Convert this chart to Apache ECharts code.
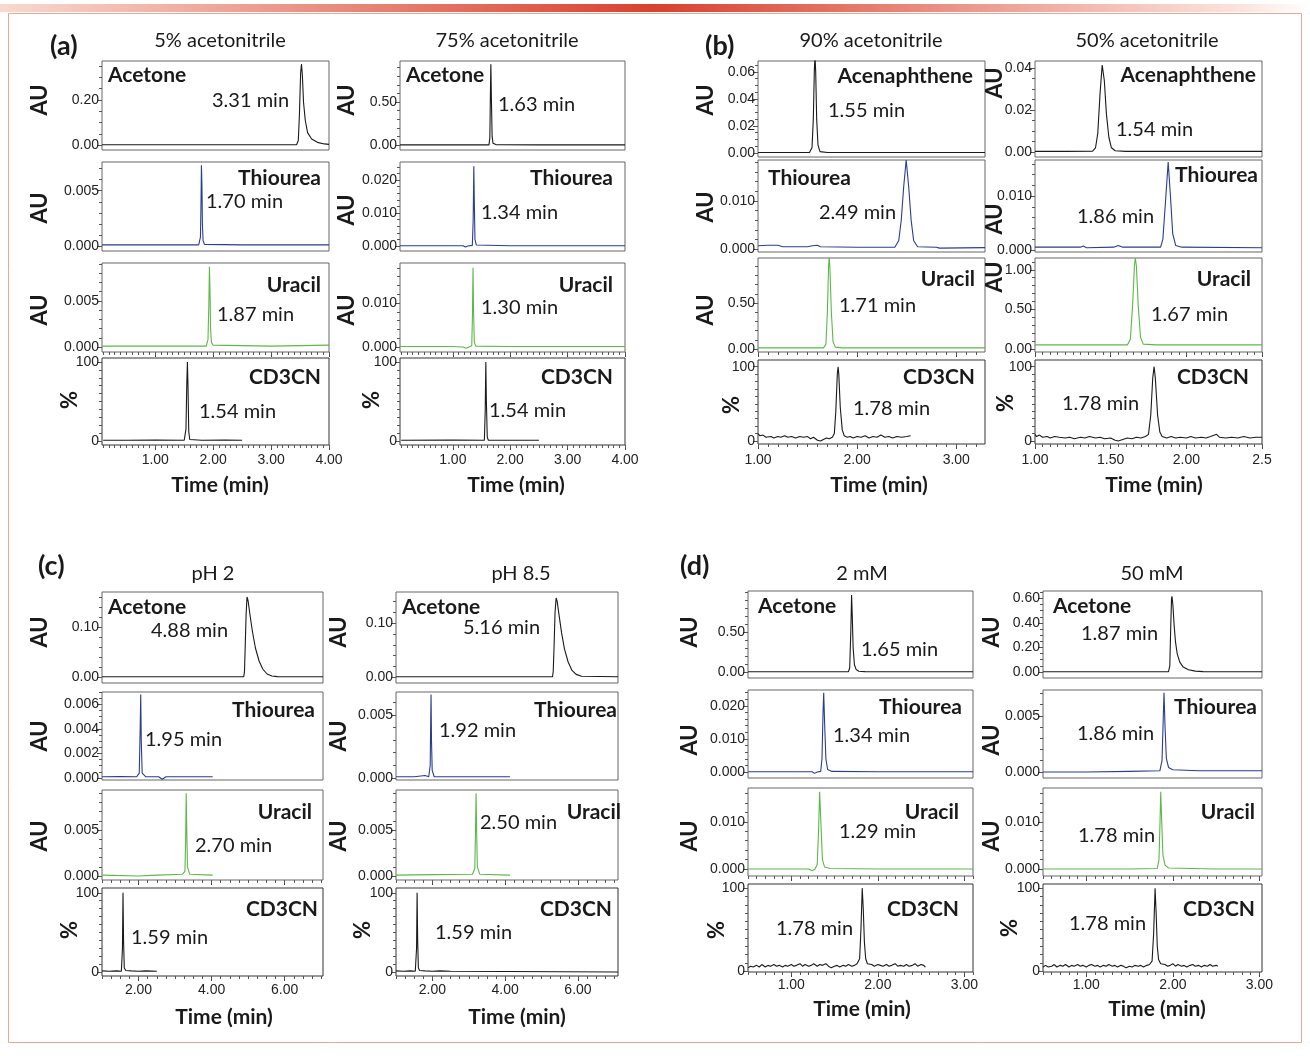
<!DOCTYPE html>
<html><head><meta charset="utf-8">
<script src="https://cdn.jsdelivr.net/npm/echarts@6/dist/echarts.min.js"></script>
<style>html,body{margin:0;padding:0;background:#fff}#c{width:1310px;height:1056px}</style>
</head><body><div id="c"></div>
<script>
// ---------------- DATA ----------------
// (a) 5% acetonitrile
const a1_acetone = [[0.08,0.001],[1.0,0.001],[2.0,0.001],[3.0,0.001],[3.44,0.001],[3.47,0.02],[3.49,0.14],[3.51,0.32],[3.525,0.36],[3.54,0.31],[3.56,0.19],[3.59,0.11],[3.63,0.055],[3.70,0.027],[3.80,0.012],[3.92,0.005],[4.0,0.003]];
const a1_thiourea = [[0.08,0.0001],[0.5,0.00012],[1.0,0.0001],[1.5,0.00012],[1.75,0.0001],[1.78,0.0008],[1.79,0.004],[1.797,0.0073],[1.806,0.0055],[1.814,0.002],[1.825,0.0005],[1.85,0.00015],[2.5,0.0001],[3.2,0.00012],[4.0,0.0001]];
const a1_uracil = [[0.08,0.0001],[1.0,0.0001],[1.88,0.0001],[1.91,0.0008],[1.925,0.0045],[1.935,0.0087],[1.945,0.006],[1.955,0.002],[1.97,0.0005],[2.0,0.0002],[3.0,0.0001],[4.0,0.0002]];
const a1_cd3cn = [[0.1,1],[0.5,1],[1.0,1.2],[1.5,1],[1.53,15],[1.545,75],[1.555,100],[1.565,70],[1.578,12],[1.595,2],[1.8,1],[2.2,1.2],[2.5,1]];
// (a) 75% acetonitrile
const a2_acetone = [[0.08,0.002],[1.0,0.002],[1.63,0.002],[1.645,0.08],[1.655,0.6],[1.663,0.94],[1.672,0.55],[1.685,0.1],[1.70,0.02],[1.75,0.005],[2.5,0.002],[4.0,0.002]];
const a2_thiourea = [[0.08,0.0001],[1.0,0.0001],[1.18,0.0001],[1.22,-0.0003],[1.26,0.0],[1.34,0.0002],[1.355,0.008],[1.366,0.0242],[1.376,0.012],[1.386,0.002],[1.41,0.0003],[2.0,0.0001],[4.0,0.0001]];
const a2_uracil = [[0.08,0.0001],[1.0,0.0001],[1.18,0.0],[1.23,-0.0003],[1.28,0.0],[1.33,0.0003],[1.342,0.007],[1.352,0.018],[1.362,0.008],[1.375,0.001],[1.40,0.0002],[2.0,0.0001],[4.0,0.0001]];
const a2_cd3cn = [[0.1,1],[1.0,1.2],[1.55,1],[1.565,40],[1.575,100],[1.585,50],[1.6,5],[1.62,1],[2.5,1]];
// (b) 90% acetonitrile
const b1_acenaphthene = [[1.0,0.0003],[1.3,0.0003],[1.52,0.0004],[1.545,0.004],[1.558,0.025],[1.568,0.06],[1.575,0.072],[1.582,0.06],[1.592,0.025],[1.605,0.006],[1.625,0.001],[1.7,0.0003],[3.29,0.0003]];
const b1_thiourea = [[1.0,0.0007],[1.1,0.0008],[1.2,0.0008],[1.25,0.0005],[1.5,0.0005],[1.55,0.0007],[1.6,0.0008],[1.63,0.0005],[2.0,0.0004],[2.38,0.0004],[2.42,0.0018],[2.445,0.006],[2.47,0.013],[2.495,0.0185],[2.52,0.013],[2.545,0.006],[2.57,0.0018],[2.61,0.0005],[2.8,0.0004],[2.83,0.0002],[3.29,0.0003]];
const b1_uracil = [[1.0,0.012],[1.4,0.012],[1.66,0.012],[1.685,0.05],[1.70,0.4],[1.712,0.9],[1.718,1.0],[1.725,0.9],[1.74,0.4],[1.757,0.08],[1.78,0.02],[1.85,0.012],[3.29,0.012]];
const b1_cd3cn = [[1.0,10],[1.02,7],[1.05,8],[1.08,5],[1.1,7],[1.13,6],[1.16,4],[1.2,6],[1.23,5],[1.27,7],[1.3,5],[1.34,6],[1.38,4],[1.42,6],[1.46,5],[1.5,6],[1.53,3],[1.56,5],[1.6,1],[1.63,0],[1.66,2],[1.69,4],[1.72,3],[1.75,5],[1.77,10],[1.785,40],[1.80,90],[1.808,100],[1.815,90],[1.83,45],[1.85,15],[1.87,7],[1.9,5],[1.93,6],[1.96,4],[2.0,6],[2.04,5],[2.08,7],[2.12,4],[2.16,6],[2.2,5],[2.24,8],[2.28,5],[2.32,6],[2.36,4],[2.4,6],[2.45,5],[2.5,6],[2.54,7]];
// (b) 50% acetonitrile
const b2_acenaphthene = [[1.0,0.0003],[1.2,0.0003],[1.38,0.0004],[1.40,0.002],[1.415,0.009],[1.43,0.028],[1.444,0.0414],[1.458,0.034],[1.472,0.018],[1.488,0.007],[1.505,0.002],[1.53,0.0006],[1.6,0.0003],[2.5,0.0003]];
const b2_thiourea = [[1.0,0.0005],[1.3,0.0005],[1.32,0.0007],[1.34,0.0004],[1.52,0.0005],[1.55,0.0008],[1.58,0.0005],[1.83,0.0005],[1.845,0.002],[1.86,0.008],[1.88,0.0163],[1.895,0.01],[1.91,0.003],[1.93,0.0008],[1.97,0.0005],[2.5,0.0004]];
const b2_uracil = [[1.0,0.05],[1.5,0.05],[1.61,0.05],[1.63,0.12],[1.645,0.55],[1.657,1.05],[1.663,1.15],[1.67,1.05],[1.682,0.55],[1.697,0.15],[1.715,0.06],[1.8,0.05],[2.5,0.05]];
const b2_cd3cn = [[1.0,9],[1.01,6],[1.03,8],[1.05,5],[1.08,6],[1.1,4],[1.13,6],[1.16,5],[1.2,4],[1.23,5],[1.26,3],[1.3,5],[1.33,4],[1.36,6],[1.4,4],[1.43,5],[1.46,3],[1.5,4],[1.53,1],[1.55,0],[1.58,2],[1.61,4],[1.64,3],[1.67,5],[1.7,4],[1.73,6],[1.75,9],[1.765,35],[1.778,85],[1.787,100],[1.795,85],[1.81,35],[1.825,12],[1.84,6],[1.87,4],[1.9,6],[1.93,4],[1.96,5],[2.0,4],[2.03,6],[2.06,4],[2.1,5],[2.13,4],[2.16,6],[2.2,9],[2.22,5],[2.26,4],[2.3,5],[2.34,4],[2.38,6],[2.42,4],[2.46,5],[2.5,5]];
// (c) pH 2
const c1_acetone = [[1.0,0.0005],[2.0,0.0005],[3.0,0.0005],[4.0,0.0005],[4.88,0.0006],[4.90,0.01],[4.92,0.06],[4.945,0.125],[4.97,0.16],[5.0,0.152],[5.05,0.125],[5.12,0.09],[5.2,0.058],[5.3,0.032],[5.4,0.016],[5.52,0.006],[5.65,0.002],[5.8,0.0008],[7.05,0.0005]];
const c1_thiourea = [[1.0,0.0001],[1.5,0.00012],[1.95,0.0001],[2.02,0.0004],[2.045,0.004],[2.06,0.0068],[2.075,0.003],[2.1,0.0004],[2.2,0.0001],[2.55,0.0001],[2.65,-0.0001],[2.75,0.0001],[3.5,0.0001],[4.03,0.0001]];
const c1_uracil = [[1.0,0.0001],[2.0,0.0],[2.5,0.0001],[3.2,0.0002],[3.27,0.0005],[3.29,0.004],[3.305,0.009],[3.32,0.005],[3.34,0.001],[3.4,0.0002],[4.03,0.0001]];
const c1_cd3cn = [[1.0,1.5],[1.2,1],[1.4,1.5],[1.53,1],[1.56,30],[1.575,100],[1.59,40],[1.61,5],[1.65,2],[1.8,1.5],[2.0,1],[2.2,1.5],[2.5,1]];
// (c) pH 8.5
const c2_acetone = [[1.0,0.0005],[3.0,0.0005],[5.0,0.0005],[5.3,0.0006],[5.32,0.01],[5.345,0.06],[5.37,0.12],[5.40,0.147],[5.43,0.14],[5.48,0.115],[5.55,0.082],[5.63,0.052],[5.73,0.028],[5.83,0.013],[5.95,0.005],[6.1,0.0015],[7.1,0.0005]];
const c2_thiourea = [[1.0,0.0001],[1.5,0.0001],[1.8,0.0002],[1.9,0.0001],[1.94,0.001],[1.955,0.005],[1.963,0.0066],[1.975,0.003],[1.995,0.0006],[2.05,0.0001],[3.0,0.0001],[4.13,0.0001]];
const c2_uracil = [[1.0,0.0001],[2.0,0.00015],[3.1,0.0002],[3.165,0.0008],[3.185,0.005],[3.2,0.009],[3.215,0.005],[3.235,0.001],[3.3,0.0002],[4.13,0.0001]];
const c2_cd3cn = [[1.0,1.5],[1.2,1],[1.4,1.5],[1.53,1],[1.565,30],[1.58,100],[1.595,40],[1.615,5],[1.65,2],[1.8,1.5],[2.0,1],[2.2,1.5],[2.5,1],[2.55,0],[7.1,0]];
// (d) 2 mM
const d1_acetone = [[0.5,0.003],[1.2,0.003],[1.66,0.003],[1.675,0.05],[1.688,0.5],[1.697,0.96],[1.705,0.7],[1.715,0.3],[1.73,0.09],[1.75,0.03],[1.78,0.01],[1.85,0.004],[3.1,0.003]];
const d1_thiourea = [[0.5,0.0001],[1.0,0.0001],[1.24,0.0001],[1.27,-0.0004],[1.3,0.0],[1.34,0.0002],[1.355,0.004],[1.367,0.018],[1.375,0.024],[1.385,0.015],[1.4,0.004],[1.42,0.0008],[1.47,0.0002],[2.0,0.0001],[3.1,0.0001]];
const d1_uracil = [[0.5,0.0],[1.0,0.0],[1.2,0.0],[1.24,-0.0004],[1.275,0.0],[1.3,0.001],[1.315,0.008],[1.328,0.0164],[1.342,0.01],[1.36,0.002],[1.385,0.0004],[1.45,0.0001],[2.0,0.0],[3.1,0.0]];
const d1_cd3cn = [[0.5,4],[0.53,6],[0.56,5],[0.6,7],[0.63,5],[0.66,8],[0.7,5],[0.73,7],[0.76,6],[0.8,8],[0.83,6],[0.86,7],[0.9,5],[0.93,7],[0.96,6],[1.0,8],[1.03,6],[1.06,7],[1.1,9],[1.13,6],[1.16,8],[1.2,6],[1.23,7],[1.26,9],[1.3,6],[1.33,8],[1.36,7],[1.4,9],[1.43,6],[1.46,4],[1.5,6],[1.53,7],[1.56,5],[1.6,7],[1.63,6],[1.66,8],[1.7,6],[1.73,7],[1.76,9],[1.79,15],[1.805,50],[1.82,100],[1.832,75],[1.845,35],[1.86,15],[1.88,9],[1.9,7],[1.93,8],[1.96,6],[2.0,8],[2.03,7],[2.06,6],[2.1,8],[2.13,6],[2.16,7],[2.2,9],[2.23,6],[2.26,7],[2.3,6],[2.33,8],[2.36,6],[2.4,7],[2.43,9],[2.46,6],[2.5,8],[2.53,7],[2.55,5]];
// (d) 50 mM
const d2_acetone = [[0.5,0.002],[1.0,0.002],[1.5,0.002],[1.95,0.002],[1.965,0.05],[1.975,0.35],[1.985,0.6],[1.99,0.617],[2.0,0.55],[2.015,0.38],[2.03,0.25],[2.05,0.15],[2.08,0.08],[2.12,0.04],[2.18,0.018],[2.26,0.007],[2.35,0.003],[3.03,0.002]];
const d2_thiourea = [[0.5,0.0],[1.0,0.0],[1.5,0.00005],[1.85,0.0001],[1.875,0.001],[1.89,0.005],[1.898,0.00705],[1.91,0.004],[1.925,0.0012],[1.95,0.0004],[2.0,0.0002],[2.3,0.0001],[3.03,0.0001]];
const d2_uracil = [[0.5,0.0],[1.0,0.0],[1.5,0.0],[1.82,0.0001],[1.84,0.002],[1.852,0.01],[1.86,0.0164],[1.87,0.011],[1.885,0.003],[1.91,0.0008],[1.95,0.0002],[2.5,0.0],[3.03,0.0]];
const d2_cd3cn = [[0.5,5],[0.53,7],[0.56,5],[0.6,6],[0.63,8],[0.66,5],[0.7,7],[0.73,6],[0.76,8],[0.8,5],[0.83,7],[0.86,6],[0.9,8],[0.93,6],[0.96,7],[1.0,5],[1.03,7],[1.06,8],[1.1,6],[1.13,7],[1.16,5],[1.2,7],[1.23,6],[1.26,8],[1.3,6],[1.33,7],[1.36,5],[1.4,7],[1.43,6],[1.46,4],[1.5,6],[1.53,5],[1.56,7],[1.6,6],[1.63,7],[1.66,5],[1.7,7],[1.73,8],[1.76,12],[1.778,45],[1.795,100],[1.807,70],[1.82,30],[1.835,14],[1.86,9],[1.88,7],[1.91,8],[1.94,6],[1.97,7],[2.0,9],[2.03,6],[2.06,8],[2.1,6],[2.13,7],[2.16,5],[2.2,7],[2.23,8],[2.26,6],[2.3,7],[2.33,5],[2.36,7],[2.4,6],[2.43,8],[2.46,6],[2.5,7],[2.52,6]];

// text content
const quadLetters = ["(a)","(b)","(c)","(d)"];
const colTitles = ["5% acetonitrile","75% acetonitrile","90% acetonitrile","50% acetonitrile","pH 2","pH 8.5","2 mM","50 mM"];
const namesStd = ["Acetone","Thiourea","Uracil","CD3CN"];
const namesB = ["Acenaphthene","Thiourea","Uracil","CD3CN"];
const rtA1 = ["3.31 min","1.70 min","1.87 min","1.54 min"];
const rtA2 = ["1.63 min","1.34 min","1.30 min","1.54 min"];
const rtB1 = ["1.55 min","2.49 min","1.71 min","1.78 min"];
const rtB2 = ["1.54 min","1.86 min","1.67 min","1.78 min"];
const rtC1 = ["4.88 min","1.95 min","2.70 min","1.59 min"];
const rtC2 = ["5.16 min","1.92 min","2.50 min","1.59 min"];
const rtD1 = ["1.65 min","1.34 min","1.29 min","1.78 min"];
const rtD2 = ["1.87 min","1.86 min","1.78 min","1.78 min"];
// tick labels
const xTicksA = [1,2,3,4], xTicksB1 = [1,2,3], xTicksB2 = [1,1.5,2,2.5], xTicksC = [2,4,6], xTicksD = [1,2,3];
const xTickTextB2 = ["1.00","1.50","2.00","2.5"];
const yTicksA1 = [[0,0.2],[0,0.005],[0,0.005],[0,100]];
const yTicksA2 = [[0,0.5],[0,0.01,0.02],[0,0.01],[0,100]];
const yTicksB1 = [[0,0.02,0.04,0.06],[0,0.01],[0,0.5],[0,100]];
const yTicksB2 = [[0,0.02,0.04],[0,0.01],[0,0.5,1.0],[0,100]];
const yTicksC1 = [[0,0.1],[0,0.002,0.004,0.006],[0,0.005],[0,100]];
const yTicksC2 = [[0,0.1],[0,0.005],[0,0.005],[0,100]];
const yTicksD1 = [[0,0.5],[0,0.01,0.02],[0,0.01],[0,100]];
const yTicksD2 = [[0,0.2,0.4,0.6],[0,0.005],[0,0.01],[0,100]];

// ---------------- LAYOUT / STYLE ----------------
const rowsA = [[61,150],[162,251],[263,352],[358,445]];
const rowsB = [[61,157],[160,252],[258,352],[360,444]];
const rowsC = [[592,683],[692,780],[790,880],[888,976]];
const rowsD = [[591,678],[690,778],[788,876],[884,972]];
const COLORS = ['#1a1a1a','#2b3d8f','#5cb848','#1a1a1a'];
const YDEC = [[2,3,3,0],[2,3,3,0],[2,3,2,0],[2,3,2,0],[2,3,3,0],[2,3,3,0],[2,3,3,0],[2,3,3,0]];
const YMINOR = [[0.05,0.001,0.001,10],[0.1,0.002,0.002,10],[0.005,0.002,0.1,10],[0.005,0.002,0.1,10],[0.02,0.0005,0.001,10],[0.02,0.001,0.001,10],[0.1,0.002,0.002,10],[0.05,0.001,0.002,10]];

const COLS = [
 {x:[102,329], rows:rowsA, xr:[0.08,4.0], xt:xTicksA, xminor:0.1, xm:8, tr:[a1_acetone,a1_thiourea,a1_uracil,a1_cd3cn], names:namesStd, rt:rtA1, yt:yTicksA1,
  yr:[[-0.022,0.373],[-0.00045,0.0076],[-0.00054,0.0091],[-5,105]],
  nm:[[108,75,'left'],[321,178,'right'],[321,285,'right'],[321,377,'right']],
  rp:[[212,101],[206,202],[217,315],[199,412]],
  au:[[40,100],[40,208],[40,310],[70,400]], title:[220,41], time:[220,485]},
 {x:[400,625], rows:rowsA, xr:[0.08,4.0], xt:xTicksA, xminor:0.1, xm:8, tr:[a2_acetone,a2_thiourea,a2_uracil,a2_cd3cn], names:namesStd, rt:rtA2, yt:yTicksA2,
  yr:[[-0.058,0.977],[-0.0015,0.0255],[-0.00114,0.0191],[-5,105]],
  nm:[[406,75,'left'],[613,178,'right'],[613,285,'right'],[613,377,'right']],
  rp:[[498,105],[481,213],[481,308],[489,411]],
  au:[[347,100],[347,210],[347,310],[372,400]], title:[507,41], time:[516,485]},
 {x:[758,985], rows:rowsB, xr:[1.0,3.29], xt:xTicksB1, xminor:0.1, xm:9, tr:[b1_acenaphthene,b1_thiourea,b1_uracil,b1_cd3cn], names:namesB, rt:rtB1, yt:yTicksB1,
  yr:[[-0.003,0.068],[-0.0006,0.0185],[-0.033,0.99],[-4,109]],
  nm:[[973,76,'right'],[768,178,'left'],[975,279,'right'],[975,377,'right']],
  rp:[[828,111],[819,213],[839,306],[853,409]],
  au:[[706,100],[706,207],[706,310],[732,405]], title:[871,41], time:[879,485]},
 {x:[1035,1262], rows:rowsB, xr:[1.0,2.5], xt:xTicksB2, xtext:xTickTextB2, xminor:0.05, xm:9, tr:[b2_acenaphthene,b2_thiourea,b2_uracil,b2_cd3cn], names:namesB, rt:rtB2, yt:yTicksB2,
  yr:[[-0.0024,0.0433],[-0.0004,0.0167],[-0.04,1.15],[-4,109]],
  nm:[[1256,75,'right'],[1258,175,'right'],[1251,279,'right'],[1249,377,'right']],
  rp:[[1116,130],[1077,217],[1151,315],[1062,404]],
  au:[[995,83],[995,219],[995,277],[1006,403]], title:[1147,41], time:[1154,485]},
 {x:[102,323], rows:rowsC, xr:[1.0,7.05], xt:xTicksC, xminor:0.25, xm:7, tr:[c1_acetone,c1_thiourea,c1_uracil,c1_cd3cn], names:namesStd, rt:rtC1, yt:yTicksC1,
  yr:[[-0.012,0.17],[-0.00016,0.0070],[-0.00043,0.00935],[-5,106]],
  nm:[[108,607,'left'],[315,710,'right'],[312,812,'right'],[318,909,'right']],
  rp:[[151,631],[145,740],[195,846],[131,938]],
  au:[[40,632],[40,736],[40,836],[70,930]], title:[213,574], time:[224,1017]},
 {x:[396,618], rows:rowsC, xr:[1.0,7.1], xt:xTicksC, xminor:0.25, xm:7, tr:[c2_acetone,c2_thiourea,c2_uracil,c2_cd3cn], names:namesStd, rt:rtC2, yt:yTicksC2,
  yr:[[-0.011,0.158],[-0.00016,0.0068],[-0.00043,0.00935],[-5,106]],
  nm:[[402,607,'left'],[617,710,'right'],[621,812,'right'],[612,909,'right']],
  rp:[[463,628],[439,731],[480,823],[435,933]],
  au:[[339,632],[339,736],[339,836],[363,930]], title:[521,574], time:[517,1017]},
 {x:[748,973], rows:rowsD, xr:[0.5,3.1], xt:xTicksD, xminor:0.1, xm:6, tr:[d1_acetone,d1_thiourea,d1_uracil,d1_cd3cn], names:namesStd, rt:rtD1, yt:yTicksD1,
  yr:[[-0.075,1.01],[-0.0018,0.0248],[-0.0015,0.0172],[-1,105]],
  nm:[[758,606,'left'],[962,707,'right'],[959,812,'right'],[959,909,'right']],
  rp:[[861,650],[833,736],[839,832],[776,929]],
  au:[[690,632],[690,740],[690,836],[717,930]], title:[862,574], time:[862,1009]},
 {x:[1043,1262], rows:rowsD, xr:[0.5,3.03], xt:xTicksD, xminor:0.1, xm:6, tr:[d2_acetone,d2_thiourea,d2_uracil,d2_cd3cn], names:namesStd, rt:rtD2, yt:yTicksD2,
  yr:[[-0.049,0.66],[-0.00054,0.0073],[-0.0015,0.0172],[-1,105]],
  nm:[[1053,606,'left'],[1257,707,'right'],[1255,812,'right'],[1255,909,'right']],
  rp:[[1081,634],[1077,734],[1078,836],[1069,924]],
  au:[[992,632],[992,740],[992,836],[1010,928]], title:[1152,574], time:[1157,1009]}
];
const LETTERPOS = [[50,46],[705,46],[38,566],[680,566]];

const TICKFONT = 'Liberation Sans';
const MAINFONT = 'Lato';
function minorList(min, max, step){
  const out=[]; const s=Math.ceil(min/step-1e-9), e=Math.floor(max/step+1e-9);
  for(let i=s;i<=e;i++){ out.push(Math.round(i*step*1e7)/1e7); }
  return out;
}

const grids=[], xAxes=[], yAxes=[], series=[], graphics=[];
function txt(x,y,text,font,align,rot,color){
  graphics.push({type:'text', x:x, y:y, rotation:rot||0, z:100,
    style:{text:text, font:font, fill:color||'#1a1a1a', align:align||'center', verticalAlign:'middle'}});
}
let gi=0;
COLS.forEach((C,ci)=>{
  for(let r=0;r<4;r++){
    const [t,b]=C.rows[r];
    grids.push({left:C.x[0], top:t, width:C.x[1]-C.x[0], height:b-t, show:true,
      borderColor: r===3?'#333':'#666', borderWidth:1, backgroundColor:'rgba(0,0,0,0)'});
    const showX = r>=2, labX = r===3;
    const xfmt = C.xtext ? (v)=>C.xtext[C.xt.indexOf(v)] : (v)=>v.toFixed(2);
    xAxes.push({type:'value', gridIndex:gi, position:'bottom', min:C.xr[0], max:C.xr[1], axisLine:{show:false, onZero:false}, splitLine:{show:false},
      axisTick:{show:showX, customValues:C.xt, length:5, lineStyle:{color:'#444'}},
      axisLabel:{show:labX, customValues:C.xt, formatter:xfmt, margin:C.xm, fontSize:14, color:'#222', fontFamily:TICKFONT}});
    xAxes.push({type:'value', gridIndex:gi, position:'bottom', min:C.xr[0], max:C.xr[1], axisLine:{show:false, onZero:false}, splitLine:{show:false},
      axisTick:{show:showX, customValues:minorList(C.xr[0],C.xr[1],C.xminor), length:3, lineStyle:{color:'#555'}},
      axisLabel:{show:false}});
    const [ymin,ymax]=C.yr[r]; const dec=YDEC[ci][r];
    yAxes.push({type:'value', gridIndex:gi, position:'left', min:ymin, max:ymax, axisLine:{show:false, onZero:false}, splitLine:{show:false},
      axisTick:{show:true, customValues:C.yt[r], length:5, lineStyle:{color:'#444'}},
      axisLabel:{show:true, customValues:C.yt[r], formatter:(v)=>v.toFixed(dec), margin:3, fontSize:14, color:'#222', fontFamily:TICKFONT}});
    yAxes.push({type:'value', gridIndex:gi, position:'left', min:ymin, max:ymax, axisLine:{show:false, onZero:false}, splitLine:{show:false},
      axisTick:{show:true, customValues:minorList(ymin,ymax,YMINOR[ci][r]), length:3, lineStyle:{color:'#555'}},
      axisLabel:{show:false}});
    series.push({type:'line', xAxisIndex:2*gi, yAxisIndex:2*gi, data:C.tr[r], showSymbol:false, symbol:'none',
      lineStyle:{width:1.1, color:COLORS[r]}, clip:true, animation:false, silent:true});
    // texts
    const nm=C.nm[r]; txt(nm[0],nm[1],C.names[r],'bold 21px '+MAINFONT,nm[2]);
    const rp=C.rp[r]; txt(rp[0],rp[1],C.rt[r],'20px '+MAINFONT,'left');
    const au=C.au[r]; txt(au[0],au[1], r===3?'%':'AU','bold 22px '+MAINFONT,'center',Math.PI/2);
    gi++;
  }
  txt(C.title[0],C.title[1],colTitles[ci],'20px '+MAINFONT,'center');
  txt(C.time[0],C.time[1],'Time (min)','bold 21px '+MAINFONT,'center');
});
quadLetters.forEach((l,i)=>txt(LETTERPOS[i][0],LETTERPOS[i][1],l,'bold 27px '+MAINFONT,'left'));

// decorative header bar and frame
graphics.push({type:'rect', z:0, shape:{x:0,y:4,width:1310,height:8},
  style:{fill:new echarts.graphic.LinearGradient(0,0,1,0,[{offset:0,color:'#f8d9cf'},{offset:0.5,color:'#d8412f'},{offset:0.95,color:'#fbe6df'},{offset:1,color:'#ffffff'}])}});
graphics.push({type:'rect', z:0, shape:{x:8.5,y:13.5,width:1293,height:1029},
  style:{fill:'none', stroke:'#eba697', lineWidth:1}});

const chart = echarts.init(document.getElementById('c'), null, {renderer:'canvas'});
chart.setOption({animation:false, backgroundColor:'#fff', grid:grids, xAxis:xAxes, yAxis:yAxes, series:series, graphic:graphics});
</script></body></html>
